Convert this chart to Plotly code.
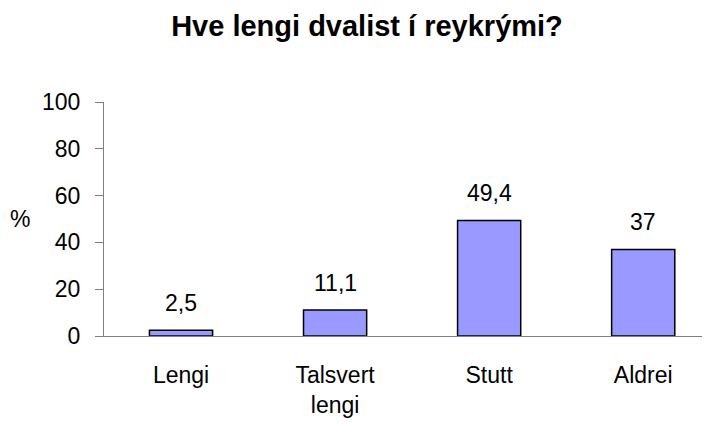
import plotly.graph_objects as go

categories = ["Lengi", "Talsvert<br>lengi", "Stutt", "Aldrei"]
values = [2.5, 11.1, 49.4, 37]
value_labels = ["2,5", "11,1", "49,4", "37"]
y_ticks = [0, 20, 40, 60, 80, 100]

FONT = "Liberation Sans, Arial, sans-serif"

fig = go.Figure()
fig.add_trace(go.Bar(
    x=categories, y=values,
    width=0.41,
    marker=dict(color="#9999FF", line=dict(color="black", width=1.5)),
    hoverinfo="skip",
))

for c, v, t in zip(categories, values, value_labels):
    fig.add_annotation(x=c, y=v, text=t, showarrow=False, xref="x", yref="y",
                       yanchor="bottom", yshift=12,
                       font=dict(family=FONT, size=23, color="black"))

fig.add_annotation(x=0, y=0.5, xref="paper", yref="paper", text="%",
                   showarrow=False, xanchor="right", xshift=-72,
                   font=dict(family=FONT, size=23, color="black"))

fig.update_layout(
    width=710, height=424,
    margin=dict(l=96, r=7, t=94, b=96, autoexpand=False),
    paper_bgcolor="white", plot_bgcolor="white",
    showlegend=False,
    title=dict(text="<b>Hve lengi dvalist í reykrými?</b>", x=359/710, xanchor="center",
               y=1 - 18/424, yanchor="middle",
               font=dict(family=FONT, size=29, color="black")),
    font=dict(family=FONT, size=23, color="black"),
)
fig.update_xaxes(
    range=[-0.5, 3.44], showline=True, linecolor="#808080", linewidth=1,
    ticks="", showgrid=False, zeroline=False, ticklabelstandoff=18, automargin=False,
    tickfont=dict(family=FONT, size=23, color="black"),
)
fig.update_yaxes(
    range=[0, 100], tickvals=y_ticks, showline=True, linecolor="#808080", linewidth=1,
    ticks="outside", ticklen=8, tickcolor="#808080", showgrid=False, zeroline=False,
    ticklabelstandoff=10, automargin=False,
    tickfont=dict(family=FONT, size=23, color="black"),
)

fig.write_html("out.html")
